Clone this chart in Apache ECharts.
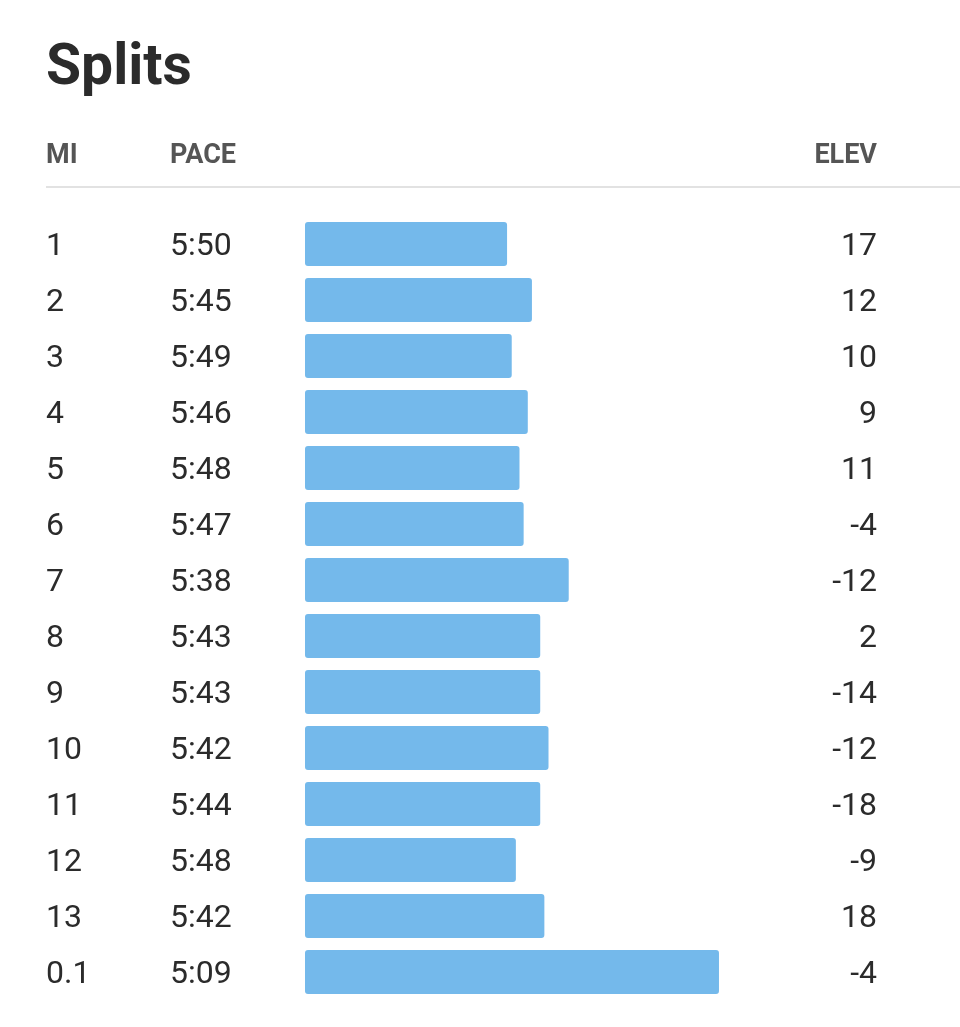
<!DOCTYPE html>
<html lang="en">
<head>
    <meta charset="UTF-8">
    <title>Splits</title>
    <script src="https://cdn.jsdelivr.net/npm/echarts@6/dist/echarts.min.js"></script>
    <style>
      html, body { margin: 0; padding: 0; background: #fff; }
    </style>
</head>
<body>
    <div id="main" style="width: 960px; height: 1027px"></div>
    <script type="text/javascript">

      // split data
      const miles = ["1", "2", "3", "4", "5", "6", "7", "8", "9", "10", "11", "12", "13", "0.1"];
      const paceLabels = ["5:50", "5:45", "5:49", "5:46", "5:48", "5:47", "5:38", "5:43", "5:43", "5:42", "5:44", "5:48", "5:42", "5:09"];
      // pace in seconds per mile (unrounded)
      const paceSeconds = [350.0, 345.2, 349.1, 346.0, 347.6, 346.8, 338.1, 343.6, 343.6, 342.0, 343.6, 348.3, 342.8, 309.1];
      const elevation = [17, 12, 10, 9, 11, -4, -12, 2, -14, -12, -18, -9, 18, -4];

      // bars grow as the pace gets faster: length = seconds under a 6:29 reference pace
      const refPace = 389;
      const barData = paceSeconds.map((s) => refPace - s);

      const font = "Roboto, 'Helvetica Neue', Arial, sans-serif";
      const textColor = "#2b2b2b";
      const headColor = "#555555";
      const rowText = { fontSize: 32, color: textColor, fontFamily: font, padding: [6, 0, 0, 0] };

      let myChart = echarts.init(document.getElementById("main"));

      let options = {
        animation: false,
        textStyle: { fontFamily: font },
        grid: { left: 305, right: 83, top: 216, bottom: 27 },
        xAxis: {
          type: "value",
          min: 0,
          max: 110.4,
          show: false,
        },
        yAxis: [
          {
            type: "category",
            data: miles,
            inverse: true,
            axisLine: { show: false },
            axisTick: { show: false },
            splitLine: { show: false },
            axisLabel: {
              align: "left",
              margin: 259,
              formatter: (v, i) => "{mi|" + v + "}{pace|" + paceLabels[i] + "}",
              rich: {
                mi: Object.assign({ width: 124 }, rowText),
                pace: rowText,
              },
            },
          },
          {
            type: "category",
            data: elevation.map(String),
            inverse: true,
            position: "right",
            axisLine: { show: false },
            axisTick: { show: false },
            splitLine: { show: false },
            axisLabel: {
              inside: true,
              margin: 0,
              formatter: (v) => "{e|" + v + "}",
              rich: { e: rowText },
            },
          },
        ],
        graphic: [
          {
            type: "text",
            left: 46,
            top: 41,
            style: {
              text: "Splits",
              fontSize: 57,
              fontWeight: "bold",
              fill: textColor,
              fontFamily: font,
            },
          },
          {
            type: "text",
            x: 46,
            y: 156,
            style: {
              text: "MI", fontSize: 27, fontWeight: "bold", fill: headColor,
              fontFamily: font, verticalAlign: "middle",
            },
          },
          {
            type: "text",
            x: 170,
            y: 156,
            style: {
              text: "PACE", fontSize: 27, fontWeight: "bold", fill: headColor,
              fontFamily: font, verticalAlign: "middle",
            },
          },
          {
            type: "text",
            x: 877,
            y: 156,
            style: {
              text: "ELEV", fontSize: 27, fontWeight: "bold", fill: headColor,
              fontFamily: font, verticalAlign: "middle", align: "right",
            },
          },
          {
            type: "line",
            shape: { x1: 46, y1: 187, x2: 960, y2: 187 },
            style: { stroke: "#d9d9d9", lineWidth: 1.5 },
          },
        ],
        series: [
          {
            name: "Pace",
            type: "bar",
            yAxisIndex: 0,
            data: barData,
            barWidth: 44,
            itemStyle: { color: "#74b9eb", borderRadius: 3 },
          },
        ],
      };

      myChart.setOption(options);

    </script>
</body>
</html>
